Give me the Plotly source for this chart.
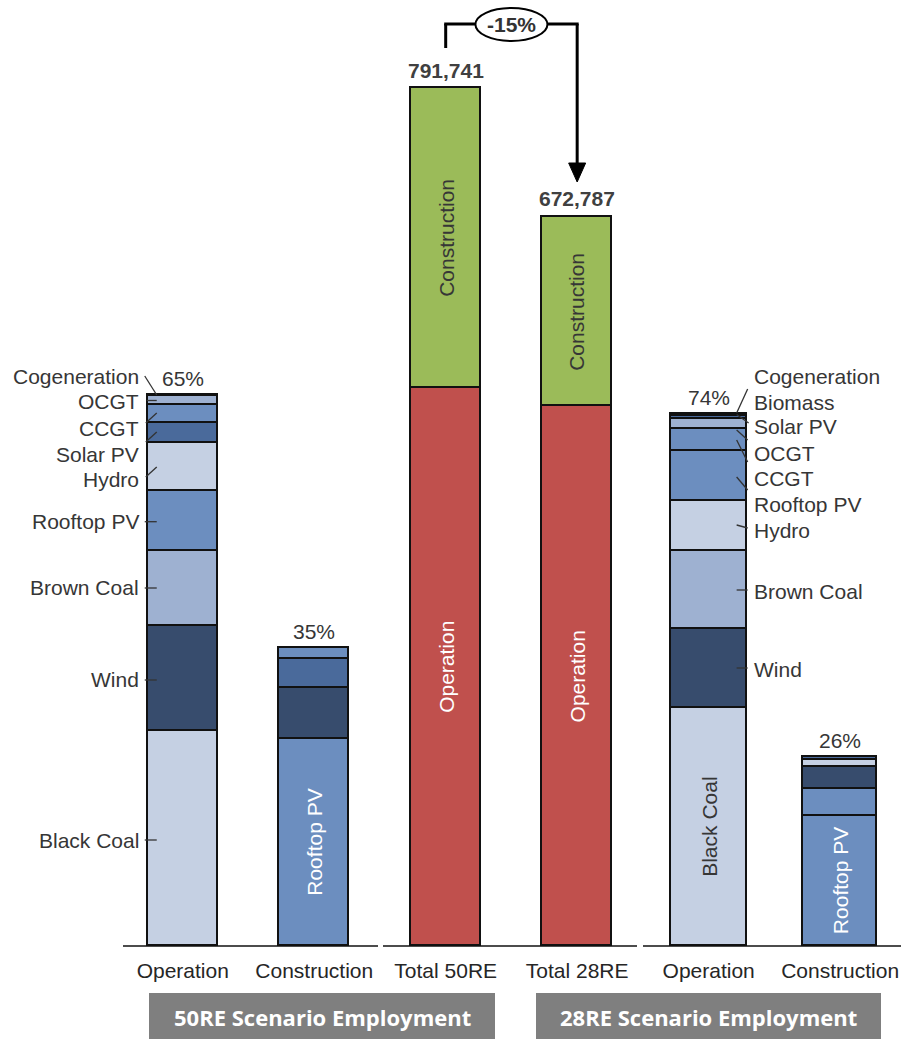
import plotly.graph_objects as go

# ---------------- data ----------------
cat_ids = ["op50", "con50", "tot50", "tot28", "op28", "con28"]
tick_labels = ["Operation", "Construction", "Total 50RE", "Total 28RE", "Operation", "Construction"]

# 50RE scenario - operation jobs by technology (bottom -> top)
op50_tech = ["Black Coal", "Wind", "Brown Coal", "Rooftop PV", "Hydro", "Solar PV", "CCGT", "OCGT", "Cogeneration"]
op50_jobs = [198100, 97450, 69210, 55370, 44020, 18730, 16610, 8030, 900]

# 50RE scenario - construction jobs (bottom -> top)
con50_tech = ["Rooftop PV", "Wind", "Solar PV", "CCGT"]
con50_jobs = [191020, 47340, 26210, 10150]

# 28RE scenario - operation jobs (bottom -> top)
op28_tech = ["Black Coal", "Wind", "Brown Coal", "Hydro", "Rooftop PV", "CCGT", "OCGT", "Solar PV", "Biomass", "Cogeneration"]
op28_jobs = [219350, 73180, 72260, 46140, 45860, 20300, 9500, 2770, 700, 550]

# 28RE scenario - construction jobs (bottom -> top)
con28_tech = ["Rooftop PV", "CCGT", "Wind", "Hydro", "Solar PV"]
con28_jobs = [119960, 25380, 20300, 6000, 2770]

# Totals
total_ids = ["tot50", "tot28"]
total_operation = [514632, 497862]
total_construction = [277109, 174925]

# ---------------- styles ----------------
tech_colors = {
    "Black Coal": "#C5D0E3", "Hydro": "#C5D0E3",
    "Wind": "#374C6D",
    "Brown Coal": "#9EB1D1", "OCGT": "#9EB1D1", "Cogeneration": "#9EB1D1",
    "Rooftop PV": "#6C8EBF", "CCGT": "#6C8EBF",
    "Solar PV": "#4A6A9B", "Biomass": "#4A6A9B",
}
RED = "#C0504D"
GREEN = "#9BBB59"
TXT = "#363636"
FONT = "Liberation Sans, Arial, sans-serif"

W, H = 901, 1039
PL, PR = 117, 901          # plot area left/right (px)
PB = 946                   # plot area bottom (px), top = 0
XMIN, XMAX = -0.5, 5.463
YMAX = 872950
bar_w = {"op50": 0.532, "con50": 0.532, "tot50": 0.532, "tot28": 0.532, "op28": 0.578, "con28": 0.563}
OUTLINE = dict(color="#111111", width=1.8)


def X(p):
    return (p - PL) / (PR - PL)


def Y(p):
    return (PB - p) / PB


def cx(i):
    return PL + (i - XMIN) * (PR - PL) / (XMAX - XMIN)


fig = go.Figure()

stacks = [("op50", op50_tech, op50_jobs), ("con50", con50_tech, con50_jobs),
          ("op28", op28_tech, op28_jobs), ("con28", con28_tech, con28_jobs)]
for cid, techs, jobs in stacks:
    for t, v in zip(techs, jobs):
        fig.add_trace(go.Bar(
            x=[cid], y=[v], name=t, width=bar_w[cid],
            marker=dict(color=tech_colors[t], line=OUTLINE),
            showlegend=False, hovertemplate=t + ": %{y:,}<extra></extra>"))

fig.add_trace(go.Bar(x=total_ids, y=total_operation, name="Operation", width=0.532,
                     marker=dict(color=RED, line=OUTLINE), showlegend=False))
fig.add_trace(go.Bar(x=total_ids, y=total_construction, name="Construction", width=0.532,
                     marker=dict(color=GREEN, line=OUTLINE), showlegend=False))

ann = []
shapes = []

# percentage labels above the scenario bars
grand = [o + c for o, c in zip(total_operation, total_construction)]
pct_items = [("op50", sum(op50_jobs), total_operation[0] / grand[0]),
             ("con50", sum(con50_jobs), total_construction[0] / grand[0]),
             ("op28", sum(op28_jobs), total_operation[1] / grand[1]),
             ("con28", sum(con28_jobs), total_construction[1] / grand[1])]
for cid, top, share in pct_items:
    ann.append(dict(x=cid, y=top, xref="x", yref="y", text=f"{share*100:.0f}%", showarrow=False,
                    xanchor="center", yanchor="middle", yshift=17, font=dict(size=21, color=TXT, family=FONT)))

# total value labels
for cid, g in zip(total_ids, grand):
    ann.append(dict(x=cid, y=g, xref="x", yref="y", text=f"<b>{g:,}</b>", showarrow=False,
                    xanchor="center", yanchor="middle", yshift=18, font=dict(size=21, color="#404040", family=FONT)))


# rotated labels inside segments
def mid(jobs, k):
    return sum(jobs[:k]) + jobs[k] / 2


inside = [("tot50", total_operation[0] / 2, "Operation", "white"),
          ("tot28", total_operation[1] / 2, "Operation", "white"),
          ("tot50", total_operation[0] + total_construction[0] / 2, "Construction", TXT),
          ("tot28", total_operation[1] + total_construction[1] / 2, "Construction", TXT),
          ("con50", mid(con50_jobs, 0), "Rooftop PV", "white"),
          ("con28", mid(con28_jobs, 0), "Rooftop PV", "white"),
          ("op28", mid(op28_jobs, 0), "Black Coal", TXT)]
for cid, yv, txt, col in inside:
    ann.append(dict(x=cid, y=yv, xref="x", yref="y", text=txt, showarrow=False, textangle=-90,
                    xanchor="center", yanchor="middle", font=dict(size=21, color=col, family=FONT)))

# left side labels for 50RE operation bar
c0 = cx(0)
left_labels = ["Cogeneration", "OCGT", "CCGT", "Solar PV", "Hydro", "Rooftop PV", "Brown Coal", "Wind", "Black Coal"]
left_label_y = [376.7, 401.7, 428, 454, 479, 521.7, 588, 680, 840]
left_leaders = [(-38, 376, -26, 395), (-36, 400.5, -26, 400.5), (-37, 423, -26, 413), (-37, 442, -26, 432),
                (-37, 477, -26, 467), (-38, 521.7, -26, 521.7), (-38, 588, -26, 588), (-38, 680, -26, 680),
                (-38, 840, -26, 840)]
for lab, yp in zip(left_labels, left_label_y):
    ann.append(dict(x=X(c0 - 42), y=Y(yp), xref="paper", yref="paper", text=lab, showarrow=False,
                    xanchor="right", yanchor="middle", font=dict(size=21, color=TXT, family=FONT)))
for dx0, y0, dx1, y1 in left_leaders:
    shapes.append(dict(type="line", xref="paper", yref="paper", x0=X(c0 + dx0), y0=Y(y0),
                       x1=X(c0 + dx1), y1=Y(y1), line=dict(color="#333333", width=1.3)))

# right side labels for 28RE operation bar
c4 = cx(4)
right_labels = ["Cogeneration", "Biomass", "Solar PV", "OCGT", "CCGT", "Rooftop PV", "Hydro", "Brown Coal", "Wind"]
right_label_y = [376.7, 402.7, 426.7, 453.3, 478.3, 504, 530.7, 591, 669]
right_leaders = [(28, 413, 39, 389), (28, 414.5, 40, 423), (28, 430, 39, 440), (28, 440, 39, 462),
                 (28, 477, 39, 490), (28, 525, 39, 528), (28, 590, 39, 590), (28, 668, 39, 668)]
for lab, yp in zip(right_labels, right_label_y):
    ann.append(dict(x=X(c4 + 43.5), y=Y(yp), xref="paper", yref="paper", text=lab, showarrow=False,
                    xanchor="left", yanchor="middle", font=dict(size=21, color=TXT, family=FONT)))
for dx0, y0, dx1, y1 in right_leaders:
    shapes.append(dict(type="line", xref="paper", yref="paper", x0=X(c4 + dx0), y0=Y(y0),
                       x1=X(c4 + dx1), y1=Y(y1), line=dict(color="#333333", width=1.3)))

# segmented baseline
for a, b in [(123, 378), (383, 637), (643, 901)]:
    shapes.append(dict(type="line", xref="paper", yref="paper", x0=X(a), x1=X(b), y0=Y(PB), y1=Y(PB),
                       line=dict(color="#111111", width=1.5)))

# change bracket between totals
c2, c3 = cx(2), cx(3)
cm = (c2 + c3) / 2
change = (grand[1] - grand[0]) / grand[0] * 100
BW = 3
shapes += [
    dict(type="line", xref="paper", yref="paper", x0=X(c2), x1=X(c2), y0=Y(48), y1=Y(24), line=dict(color="black", width=BW)),
    dict(type="line", xref="paper", yref="paper", x0=X(c2 - 1.5), x1=X(cm - 36), y0=Y(24), y1=Y(24), line=dict(color="black", width=BW)),
    dict(type="line", xref="paper", yref="paper", x0=X(cm + 36), x1=X(c3 + 1.5), y0=Y(24), y1=Y(24), line=dict(color="black", width=BW)),
    dict(type="line", xref="paper", yref="paper", x0=X(c3), x1=X(c3), y0=Y(24), y1=Y(166), line=dict(color="black", width=BW)),
    dict(type="path", xref="paper", yref="paper",
         path=f"M {X(c3-8.5)} {Y(163)} L {X(c3+8.5)} {Y(163)} L {X(c3)} {Y(182)} Z",
         fillcolor="black", line=dict(color="black", width=1)),
    dict(type="circle", xref="paper", yref="paper", x0=X(cm - 36), x1=X(cm + 36), y0=Y(41), y1=Y(8),
         fillcolor="white", line=dict(color="black", width=2)),
]
ann.append(dict(x=X(cm), y=Y(24.5), xref="paper", yref="paper", text=f"<b>{change:.0f}%</b>", showarrow=False,
                xanchor="center", yanchor="middle", font=dict(size=21, color="#333333", family=FONT)))

# scenario group boxes
for a, b, txt in [(149, 495, "50RE Scenario Employment"), (536, 881, "28RE Scenario Employment")]:
    shapes.append(dict(type="rect", xref="paper", yref="paper", x0=X(a), x1=X(b), y0=Y(993), y1=Y(1039),
                       fillcolor="#7F7F7F", line=dict(width=0), layer="below"))
    ann.append(dict(x=X((a + b) / 2), y=Y(1017), xref="paper", yref="paper", text=f"<b>{txt}</b>",
                    showarrow=False, xanchor="center", yanchor="middle",
                    font=dict(size=22, color="white", family="Open Sans, sans-serif")))

fig.update_layout(
    width=W, height=H, barmode="stack", bargap=0,
    margin=dict(l=PL, r=W - PR, t=0, b=H - PB),
    paper_bgcolor="white", plot_bgcolor="white",
    xaxis=dict(type="category", categoryorder="array", categoryarray=cat_ids, range=[XMIN, XMAX],
               tickvals=cat_ids, ticktext=tick_labels, showline=False, showgrid=False, zeroline=False,
               ticks="", ticklabelstandoff=10, tickfont=dict(size=21, color="#262626", family=FONT)),
    yaxis=dict(range=[0, YMAX], visible=False, showgrid=False, zeroline=False),
    annotations=ann, shapes=shapes,
)

fig.write_html("out.html")
